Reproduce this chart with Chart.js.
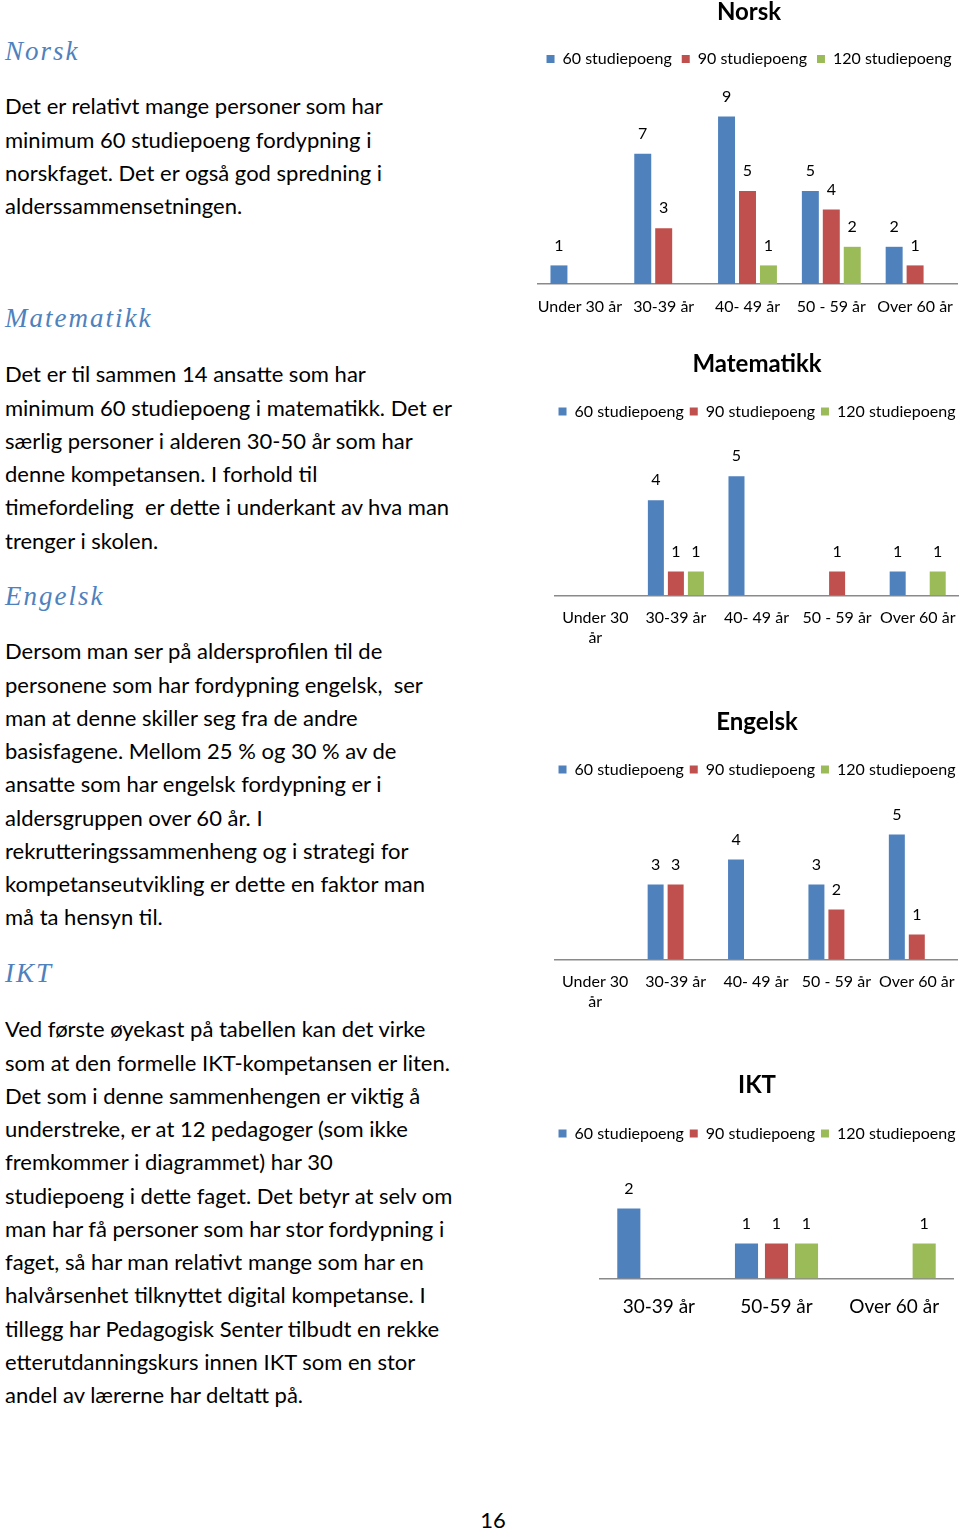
<!DOCTYPE html>
<html lang="no">
<head>
  <meta charset="UTF-8" />
  <title>Studiepoeng etter alder</title>
  <script src="https://cdn.jsdelivr.net/npm/chart.js"></script>
  <style>
    * {
      box-sizing: border-box;
    }
    body {
      margin: 0;
      background: #fff;
      font-family: "Lato", sans-serif;
      color: #000;
    }
    .page {
      position: relative;
      width: 960px;
      height: 1530px;
      overflow: hidden;
    }
    .heading {
      position: absolute;
      left: 5px;
      font-family: "Liberation Serif", serif;
      font-style: italic;
      font-size: 27px;
      line-height: 34px;
      letter-spacing: 2px;
      color: #4f81bd;
    }
    .para {
      position: absolute;
      left: 5px;
      font-size: 22px;
      line-height: 33.25px;
      white-space: nowrap;
    }
    .pagenr {
      position: absolute;
      left: 0;
      width: 986px;
      top: 1506px;
      text-align: center;
      font-size: 22px;
      line-height: 28px;
    }
    .chart-box {
      position: absolute;
      width: 480px;
    }
  </style>
</head>
<body>
  <div class="page">
    <div class="heading" style="top:34px">Norsk</div>
    <div class="para" style="top:89.4px">
      Det er relativt mange personer som har<br>
      minimum 60 studiepoeng fordypning i<br>
      norskfaget. Det er også god spredning i<br>
      alderssammensetningen.
    </div>

    <div class="heading" style="top:301px">Matematikk</div>
    <div class="para" style="top:357.4px">
      Det er til sammen 14 ansatte som har<br>
      minimum 60 studiepoeng i matematikk. Det er<br>
      særlig personer i alderen 30-50 år som har<br>
      denne kompetansen. I forhold til<br>
      timefordeling&nbsp; er dette i underkant av hva man<br>
      trenger i skolen.
    </div>

    <div class="heading" style="top:579px">Engelsk</div>
    <div class="para" style="top:634.4px">
      Dersom man ser på aldersprofilen til de<br>
      personene som har fordypning engelsk,&nbsp; ser<br>
      man at denne skiller seg fra de andre<br>
      basisfagene. Mellom 25 % og 30 % av de<br>
      ansatte som har engelsk fordypning er i<br>
      aldersgruppen over 60 år. I<br>
      rekrutteringssammenheng og i strategi for<br>
      kompetanseutvikling er dette en faktor man<br>
      må ta hensyn til.
    </div>

    <div class="heading" style="top:956px">IKT</div>
    <div class="para" style="top:1012.4px">
      Ved første øyekast på tabellen kan det virke<br>
      som at den formelle IKT-kompetansen er liten.<br>
      Det som i denne sammenhengen er viktig å<br>
      understreke, er at 12 pedagoger (som ikke<br>
      fremkommer i diagrammet) har 30<br>
      studiepoeng i dette faget. Det betyr at selv om<br>
      man har få personer som har stor fordypning i<br>
      faget, så har man relativt mange som har en<br>
      halvårsenhet tilknyttet digital kompetanse. I<br>
      tillegg har Pedagogisk Senter tilbudt en rekke<br>
      etterutdanningskurs innen IKT som en stor<br>
      andel av lærerne har deltatt på.
    </div>

    <div class="chart-box" style="left:509px;top:-2px;height:331.2px"><canvas id="norsk"></canvas></div>
    <div class="chart-box" style="left:517px;top:349.6px;height:310.2px"><canvas id="matte"></canvas></div>
    <div class="chart-box" style="left:517px;top:707.6px;height:316.2px"><canvas id="engelsk"></canvas></div>
    <div class="chart-box" style="left:517px;top:1070.6px;height:263.4px"><canvas id="ikt"></canvas></div>

    <div class="pagenr">16</div>
  </div>

  <script>
    // series names and colours
    const seriesNames = ['60 studiepoeng', '90 studiepoeng', '120 studiepoeng'];
    const seriesColors = ['#4f81bd', '#c0504d', '#9bbb59'];

    // Norsk
    const norskAges = ['Under 30 år', '30-39 år', '40- 49 år', '50 - 59 år', 'Over 60 år'];
    const norsk60 = [1, 7, 9, 5, 2];
    const norsk90 = [null, 3, 5, 4, 1];
    const norsk120 = [null, null, 1, 2, null];

    // Matematikk
    const matteAges = [['Under 30', 'år'], '30-39 år', '40- 49 år', '50 - 59 år', 'Over 60 år'];
    const matte60 = [null, 4, 5, null, 1];
    const matte90 = [null, 1, null, 1, null];
    const matte120 = [null, 1, null, null, 1];

    // Engelsk
    const engelskAges = [['Under 30', 'år'], '30-39 år', '40- 49 år', '50 - 59 år', 'Over 60 år'];
    const engelsk60 = [null, 3, 4, 3, 5];
    const engelsk90 = [null, 3, null, 2, 1];
    const engelsk120 = [null, null, null, null, null];

    // IKT
    const iktAges = ['30-39 år', '50-59 år', 'Over 60 år'];
    const ikt60 = [2, 1, null];
    const ikt90 = [null, 1, null];
    const ikt120 = [null, 1, 1];

    const FONT = 'Lato';

    // draws the value above each bar
    const valueLabels = {
      id: 'valueLabels',
      afterDatasetsDraw(chart) {
        const ctx = chart.ctx;
        ctx.save();
        ctx.font = '16px ' + FONT;
        ctx.fillStyle = '#000';
        ctx.textAlign = 'center';
        ctx.textBaseline = 'middle';
        chart.data.datasets.forEach((ds, i) => {
          const meta = chart.getDatasetMeta(i);
          meta.data.forEach((bar, j) => {
            if (ds.data[j] == null) return;
            ctx.fillText(ds.data[j], bar.x, bar.y - 20);
          });
        });
        ctx.restore();
      }
    };

    // invisible side axis, only used to reserve room left/right of the plot
    function spacer(position, width) {
      return {
        type: 'linear',
        position: position,
        display: true,
        grid: { display: false },
        border: { display: false },
        ticks: { display: false },
        afterFit: (s) => { s.width = width; }
      };
    }

    function makeChart(id, title, labels, values, cfg) {
      const datasets = values.map((vals, i) => ({
        label: seriesNames[i],
        data: vals,
        backgroundColor: seriesColors[i],
        borderWidth: 0,
        categoryPercentage: cfg.catPct,
        barPercentage: cfg.barPct
      }));

      const left = spacer('left', cfg.padLeft);
      left.min = 0;
      left.max = cfg.yMax;

      return new Chart(document.getElementById(id), {
        type: 'bar',
        data: { labels: labels, datasets: datasets },
        options: {
          responsive: true,
          maintainAspectRatio: false,
          animation: false,
          layout: { padding: 0 },
          scales: {
            x: {
              grid: { display: false, drawTicks: false },
              border: { display: true, color: '#8a8a8a', width: 1.5 },
              ticks: {
                color: '#000',
                padding: cfg.tickPad,
                maxRotation: 0,
                autoSkip: false,
                font: { family: FONT, size: cfg.tickSize, lineHeight: cfg.tickLH }
              }
            },
            y: left,
            yRight: spacer('right', cfg.padRight)
          },
          plugins: {
            title: {
              display: true,
              text: title,
              color: '#000',
              padding: { top: 0, bottom: cfg.titlePad },
              font: { family: FONT, size: 24, weight: 'bold' }
            },
            legend: {
              labels: {
                boxWidth: 8,
                boxHeight: 8,
                padding: cfg.legendPad,
                color: '#000',
                font: { family: FONT, size: 16 }
              }
            },
            tooltip: { enabled: false }
          }
        },
        plugins: [valueLabels]
      });
    }

    makeChart('norsk', 'Norsk', norskAges, [norsk60, norsk90, norsk120], {
      catPct: 0.75, barPct: 0.81, yMax: 11.13, titlePad: 14.2, legendPad: 10,
      tickPad: 13, tickSize: 16, tickLH: 1.2, padLeft: 29, padRight: 32
    });
    makeChart('matte', 'Matematikk', matteAges, [matte60, matte90, matte120], {
      catPct: 0.745, barPct: 0.8, yMax: 6.97, titlePad: 18.6, legendPad: 6,
      tickPad: 11.6, tickSize: 16, tickLH: 1.3, padLeft: 38, padRight: 39
    });
    makeChart('engelsk', 'Engelsk', engelskAges, [engelsk60, engelsk90, engelsk120], {
      catPct: 0.745, barPct: 0.8, yMax: 6.88, titlePad: 18.6, legendPad: 6,
      tickPad: 11.6, tickSize: 16, tickLH: 1.3, padLeft: 38, padRight: 40
    });
    makeChart('ikt', 'IKT', iktAges, [ikt60, ikt90, ikt120], {
      catPct: 0.765, barPct: 0.77, yMax: 3.63, titlePad: 19.6, legendPad: 6,
      tickPad: 16.6, tickSize: 19, tickLH: 1.2, padLeft: 83, padRight: 44
    });
  </script>
</body>
</html>
